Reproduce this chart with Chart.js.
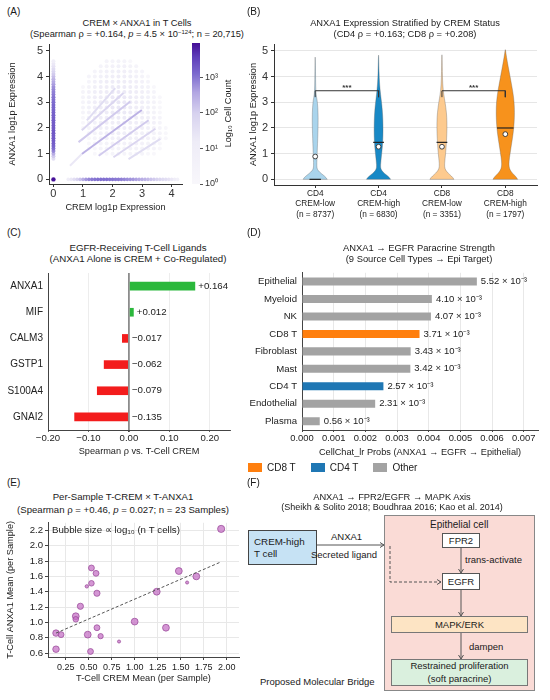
<!DOCTYPE html>
<html>
<head>
<meta charset="utf-8">
<script src="https://cdn.jsdelivr.net/npm/chart.js@4.4.1/dist/chart.umd.min.js"></script>
<style>
  body { margin: 0; background: #fff; font-family: "Liberation Sans", Arial, sans-serif; color: #1a1a1a; }
  #page { position: relative; width: 550px; height: 700px; overflow: hidden; }
  .pane { position: absolute; }
  .tag { position: absolute; font-size: 10px; line-height: 11px; }
  .ttl { position: absolute; width: 300px; text-align: center; font-size: 9.3px; line-height: 11px; white-space: nowrap; }
  sup { font-size: 6px; vertical-align: 3px; line-height: 0; }
  .fbox { position: absolute; box-sizing: border-box; border: 1px solid #555; display: flex; align-items: center; justify-content: center; text-align: center; font-size: 9.5px; line-height: 12px; }
  .ftxt { position: absolute; font-size: 9.5px; line-height: 11px; white-space: nowrap; }
  #legD { position: absolute; left: 248px; top: 462px; display: flex; align-items: center; font-size: 10px; }
  #legD span.sw { display: inline-block; width: 14px; height: 9px; margin-right: 5px; }
  #legD span.tx { margin-right: 15px; }
</style>
</head>
<body>
<div id="page">
  <div class="tag" style="left:7px;top:6px">(A)</div>
  <div class="ttl" style="left:-13px;top:18px">CREM × ANXA1 in T Cells<br>(Spearman ρ = +0.164, <i>p</i> = 4.5 × 10<sup>−124</sup>; n = 20,715)</div>
  <div class="pane" style="left:0;top:30px;width:200px;height:185px"><canvas id="cA"></canvas></div>
  <div class="pane" style="left:185px;top:30px;width:90px;height:185px"><canvas id="cBar"></canvas></div>

  <div class="tag" style="left:247px;top:6px">(B)</div>
  <div class="ttl" style="left:255px;top:17.5px">ANXA1 Expression Stratified by CREM Status<br>(CD4 ρ = +0.163; CD8 ρ = +0.208)</div>
  <div class="pane" style="left:245px;top:30px;width:305px;height:200px"><canvas id="cB"></canvas></div>

  <div class="tag" style="left:7px;top:227px">(C)</div>
  <div class="ttl" style="left:-12px;top:241.5px;font-size:9.7px">EGFR-Receiving T-Cell Ligands<br>(ANXA1 Alone is CREM + Co-Regulated)</div>
  <div class="pane" style="left:0;top:262px;width:250px;height:195px"><canvas id="cC"></canvas></div>

  <div class="tag" style="left:247px;top:227px">(D)</div>
  <div class="ttl" style="left:269px;top:241.5px;font-size:9.4px">ANXA1 → EGFR Paracrine Strength<br>(9 Source Cell Types → Epi Target)</div>
  <div class="pane" style="left:233px;top:262px;width:317px;height:196px"><canvas id="cD"></canvas></div>
  <div id="legD"></div>

  <div class="tag" style="left:7px;top:477px">(E)</div>
  <div class="ttl" style="left:-27px;top:489.5px;font-size:9.6px;line-height:13px">Per-Sample T-CREM × T-ANXA1<br>(Spearman ρ = +0.46, <i>p</i> = 0.027; n = 23 Samples)</div>
  <div class="pane" style="left:0;top:515px;width:245px;height:185px"><canvas id="cE"></canvas></div>

  <div class="tag" style="left:247px;top:477px">(F)</div>
  <div class="ttl" style="left:242px;top:491.5px;font-size:9.3px;line-height:10.5px">ANXA1 → FPR2/EGFR → MAPK Axis<br><span style="font-size:9px">(Sheikh &amp; Solito 2018; Boudhraa 2016; Kao et al. 2014)</span></div>
  <div class="fbox" style="left:248px;top:530px;width:69px;height:35px;background:#c6e2f4;border-color:#444;justify-content:flex-start;text-align:left;padding-left:5px;font-size:9.8px">CREM-high<br>T cell</div>
  <div class="ftxt" style="left:331px;top:531px">ANXA1</div>
  <div class="ftxt" style="left:311px;top:548.5px">Secreted ligand</div>
  <div class="fbox" style="left:384px;top:515px;width:151px;height:176px;background:#fadbd6;border-color:#888"></div>
  <div class="ftxt" style="left:430px;top:518.5px;font-size:10px">Epithelial cell</div>
  <div class="fbox" style="left:442px;top:533px;width:38px;height:15px;background:#fff">FPR2</div>
  <div class="ftxt" style="left:465px;top:553.5px">trans-activate</div>
  <div class="fbox" style="left:442px;top:573px;width:38px;height:17px;background:#fff">EGFR</div>
  <div class="fbox" style="left:391px;top:616px;width:137px;height:17px;background:#fde4c4;border-color:#777">MAPK/ERK</div>
  <div class="ftxt" style="left:469px;top:640.5px">dampen</div>
  <div class="fbox" style="left:391px;top:659px;width:137px;height:27px;background:#daf0de;border-color:#777;line-height:12.5px">Restrained proliferation<br>(soft paracrine)</div>
  <div class="ftxt" style="left:260px;top:675.5px">Proposed Molecular Bridge</div>
  <svg class="pane" style="left:0;top:0" width="550" height="700">
    <defs>
      <marker id="ah" markerWidth="6" markerHeight="6" refX="5" refY="3" orient="auto" markerUnits="userSpaceOnUse">
        <path d="M1,0.5 L5,3 L1,5.5" fill="none" stroke="#555" stroke-width="1"/>
      </marker>
    </defs>
    <line x1="317" y1="545" x2="384" y2="545" stroke="#555" stroke-width="1" marker-end="url(#ah)"/>
    <path d="M390,546 L390,582 L441,582" fill="none" stroke="#555" stroke-width="1" stroke-dasharray="3,2" marker-end="url(#ah)"/>
    <line x1="461" y1="548" x2="461" y2="573" stroke="#555" stroke-width="1" marker-end="url(#ah)"/>
    <line x1="461" y1="590" x2="461" y2="616" stroke="#555" stroke-width="1" marker-end="url(#ah)"/>
    <line x1="461" y1="633" x2="461" y2="659" stroke="#555" stroke-width="1" marker-end="url(#ah)"/>
  </svg>
</div>

<script>
// ---------- (A) hexbin of CREM x ANXA1 ----------
const aXTicks = [0, 1, 2, 3, 4];
const aYTicks = [0, 1, 2, 3, 4, 5];
const cbTicks = [1, 10, 100, 1000];
const cbTickLabels = ['10⁰', '10¹', '10²', '10³'];
const cbMax = 9000;
const originCount = 8500;
// CREM = 0 column, bins from y = 0.8 upward in 0.1 steps
const colY0 = 0.8, colStep = 0.1;
const colCounts = [40, 120, 300, 700, 1100, 1400, 1600, 1700, 1800, 1800, 1900, 1900, 1800, 1800, 1700,
  1700, 1600, 1500, 1500, 1400, 1300, 1300, 1200, 1100, 1000, 900, 800, 700, 600, 450,
  350, 250, 180, 120, 80, 50, 30, 20, 10];
// ANXA1 = 0 row, bins from x = 0.5 rightward in 0.1 steps
const rowX0 = 0.5, rowStep = 0.1;
const rowCounts = [10, 20, 40, 80, 150, 300, 500, 700, 900, 1000, 1100, 1100, 1100, 1100, 1000,
  1000, 900, 900, 800, 700, 600, 550, 500, 400, 350, 300, 250, 200, 150, 120,
  90, 70, 50, 40, 30, 20, 10, 5];
// diffuse cloud, rows from y = 4.6 down to 1.0, columns x = 0.8 .. 3.8 (0.2 steps)
const cloudX0 = 0.8, cloudYTop = 4.6, cloudStep = 0.2;
const cloudRows = [
  [0, 0, 0, 0, 0, 2, 2, 3, 2, 1, 0, 0, 0, 0, 0, 0],
  [0, 0, 0, 0, 2, 3, 4, 5, 4, 3, 2, 0, 0, 0, 0, 0],
  [0, 0, 0, 2, 3, 5, 6, 8, 7, 5, 3, 2, 0, 0, 0, 0],
  [0, 0, 2, 3, 5, 8, 10, 11, 10, 8, 5, 3, 1, 0, 0, 0],
  [0, 0, 2, 5, 8, 11, 14, 15, 13, 10, 7, 4, 2, 0, 0, 0],
  [0, 1, 3, 6, 10, 13, 16, 18, 16, 13, 9, 5, 3, 1, 0, 0],
  [0, 2, 4, 8, 12, 15, 19, 20, 18, 15, 11, 7, 4, 2, 0, 0],
  [0, 2, 5, 9, 13, 17, 20, 22, 20, 16, 12, 8, 5, 2, 1, 0],
  [0, 2, 5, 9, 14, 18, 21, 22, 20, 17, 13, 9, 5, 3, 1, 0],
  [0, 2, 5, 9, 13, 17, 20, 21, 20, 17, 13, 9, 6, 3, 1, 0],
  [0, 2, 4, 8, 12, 15, 18, 19, 18, 16, 12, 9, 6, 3, 1, 0],
  [0, 1, 4, 7, 10, 13, 15, 16, 16, 14, 11, 9, 6, 4, 2, 0],
  [0, 1, 3, 5, 8, 10, 12, 13, 13, 12, 10, 8, 6, 4, 2, 0],
  [0, 1, 2, 4, 6, 8, 9, 10, 10, 10, 9, 7, 5, 4, 2, 1],
  [0, 0, 2, 3, 5, 6, 7, 8, 8, 8, 7, 6, 5, 3, 2, 1],
  [0, 0, 1, 2, 3, 4, 5, 6, 6, 6, 6, 5, 4, 3, 2, 1],
  [0, 0, 1, 2, 2, 3, 4, 4, 4, 4, 4, 4, 3, 2, 1, 0],
  [0, 0, 1, 1, 2, 2, 2, 3, 3, 3, 3, 3, 2, 2, 1, 0],
  [0, 0, 0, 1, 1, 1, 2, 2, 2, 2, 2, 2, 1, 1, 0, 0]
];
// discrete-count diagonal streaks
const streakFrom = [[0.56, 0.53], [0.96, 0.99], [0.85, 1.45], [0.96, 1.91], [1.13, 2.30], [1.53, 0.92], [2.03, 0.86], [2.54, 0.79]];
const streakTo = [[0.96, 0.99], [2.99, 2.70], [2.60, 3.03], [2.37, 3.36], [2.09, 3.55], [3.22, 2.30], [3.45, 1.97], [3.62, 1.58]];
const streakCounts = [20, 260, 120, 70, 45, 120, 70, 45];

// ---------- (B) violins ----------
const bCell = ['CD4', 'CD4', 'CD8', 'CD8'];
const bStatus = ['CREM-low', 'CREM-high', 'CREM-low', 'CREM-high'];
const bN = [8737, 6830, 3351, 1797];
const bTicksY = [0, 1, 2, 3, 4, 5];
const bMedians = [0, 1.44, 1.44, 2.0];
const bMeans = [0.89, 1.27, 1.27, 1.76];
const bMedianHalf = [0.09, 0.085, 0.085, 0.13];
// [ANXA1 value, half width] outlines
const bViolins = [
  [[0, 0.19], [0.08, 0.17], [0.18, 0.12], [0.28, 0.07], [0.38, 0.035], [0.5, 0.024], [0.8, 0.028], [1.2, 0.034], [1.6, 0.04],
   [2.0, 0.045], [2.4, 0.047], [2.8, 0.042], [3.1, 0.03], [3.3, 0.014], [3.6, 0.008], [4.2, 0.005], [4.7, 0.002], [4.78, 0]],
  [[0, 0.19], [0.08, 0.17], [0.18, 0.12], [0.28, 0.07], [0.4, 0.035], [0.55, 0.03], [0.9, 0.045], [1.3, 0.062], [1.7, 0.07],
   [2.1, 0.07], [2.5, 0.065], [2.9, 0.052], [3.3, 0.032], [3.7, 0.016], [4.2, 0.007], [4.7, 0.003], [4.88, 0]],
  [[0, 0.19], [0.08, 0.17], [0.18, 0.125], [0.3, 0.075], [0.42, 0.045], [0.6, 0.04], [1.0, 0.058], [1.4, 0.07], [1.8, 0.078],
   [2.2, 0.08], [2.6, 0.072], [3.0, 0.05], [3.3, 0.028], [3.7, 0.012], [4.2, 0.006], [4.7, 0.003], [4.9, 0]],
  [[0, 0.195], [0.1, 0.17], [0.22, 0.12], [0.36, 0.075], [0.5, 0.058], [0.7, 0.058], [1.0, 0.075], [1.4, 0.1], [1.8, 0.125],
   [2.2, 0.14], [2.6, 0.145], [3.0, 0.14], [3.4, 0.12], [3.8, 0.09], [4.2, 0.06], [4.6, 0.03], [4.9, 0.01], [5.1, 0]]
];
const bColors = ['#a9d4ec', '#1889c6', '#fdca8e', '#f7921c'];
const bBrackets = [[0, 1], [2, 3]];
const bBracketTop = 3.45, bBracketFoot = 3.2;

// ---------- (C) ligand correlations ----------
const cLigands = ['ANXA1', 'MIF', 'CALM3', 'GSTP1', 'S100A4', 'GNAI2'];
const cRho = [0.164, 0.012, -0.017, -0.062, -0.079, -0.135];
const cTicks = [-0.2, -0.1, 0, 0.1, 0.2];

// ---------- (D) CellChat probabilities ----------
const dSources = ['Epithelial', 'Myeloid', 'NK', 'CD8 T', 'Fibroblast', 'Mast', 'CD4 T', 'Endothelial', 'Plasma'];
const dProb = [5.52e-3, 4.10e-3, 4.07e-3, 3.71e-3, 3.43e-3, 3.42e-3, 2.57e-3, 2.31e-3, 0.56e-3];
const dGroup = ['Other', 'Other', 'Other', 'CD8 T', 'Other', 'Other', 'CD4 T', 'Other', 'Other'];
const dTicks = [0, 0.001, 0.002, 0.003, 0.004, 0.005, 0.006, 0.007];
const dLegend = ['CD8 T', 'CD4 T', 'Other'];
const dGroupColor = { 'CD8 T': '#ff7f0e', 'CD4 T': '#1f77b4', 'Other': '#a3a3a3' };

// ---------- (E) per-sample means ----------
const eCrem = [1.94, 1.48, 1.67, 1.57, 1.24, 0.53, 0.58, 0.48, 0.53, 0.59, 0.41, 0.36, 0.36, 1.00, 1.34, 0.59, 0.145, 0.20, 0.49, 0.63, 0.83, 0.145, 0.52];
const eAnxa = [2.22, 1.67, 1.60, 1.52, 1.40, 1.71, 1.64, 1.47, 1.51, 1.38, 1.21, 1.08, 1.04, 1.01, 0.93, 0.93, 0.86, 0.84, 0.84, 0.82, 0.75, 0.65, 0.62];
const eLogN = [3.3, 3.2, 3.2, 2.0, 3.2, 2.9, 2.9, 2.1, 2.8, 3.0, 3.0, 3.2, 2.8, 3.2, 3.2, 2.9, 3.1, 2.9, 3.2, 2.7, 2.0, 3.1, 2.9];
const eTrendX = [0.145, 1.94];
const eTrendY = [0.86, 1.79];
const eXTicks = [0.25, 0.5, 0.75, 1.0, 1.25, 1.5, 1.75, 2.0];
const eYTicks = [0.6, 0.8, 1.0, 1.2, 1.4, 1.6, 1.8, 2.0, 2.2];

Chart.defaults.font.family = '"Liberation Sans", Arial, sans-serif';
Chart.defaults.color = '#222';
Chart.defaults.animation = false;
Chart.defaults.maintainAspectRatio = false;
Chart.defaults.plugins.legend.display = false;
Chart.defaults.plugins.tooltip.enabled = false;

const fixTicks = vals => s => { s.ticks = vals.map(v => ({ value: v })); };
const FONT = '"Liberation Sans", Arial, sans-serif';

// log-count colour ramp matching the colour bar
const purpleStops = [
  [0.00, [248, 247, 251]], [0.30, [238, 236, 247]], [0.50, [215, 210, 239]], [0.65, [178, 166, 226]],
  [0.78, [124, 106, 206]], [0.90, [95, 62, 186]], [1.00, [68, 14, 150]]
];
function purple(count) {
  const f = Math.max(0, Math.min(1, Math.log10(count) / Math.log10(cbMax)));
  for (let i = 1; i < purpleStops.length; i++) {
    const [f0, c0] = purpleStops[i - 1], [f1, c1] = purpleStops[i];
    if (f <= f1) {
      const t = (f - f0) / (f1 - f0);
      return 'rgb(' + c0.map((c, k) => Math.round(c + (c1[k] - c) * t)).join(',') + ')';
    }
  }
  return 'rgb(68,14,150)';
}

// ---------------- chart A ----------------
const cloudPts = [], cloudCols = [];
cloudRows.forEach((row, r) => row.forEach((n, c) => {
  if (!n) return;
  cloudPts.push({ x: cloudX0 + c * cloudStep, y: cloudYTop - r * cloudStep });
  cloudCols.push(purple(n));
}));
const colPts = colCounts.map((n, i) => ({ x: 0, y: colY0 + i * colStep }));
const rowPts = rowCounts.map((n, i) => ({ x: rowX0 + i * rowStep, y: 0 }));

new Chart(document.getElementById('cA'), {
  type: 'scatter',
  data: {
    datasets: [
      { data: cloudPts, backgroundColor: cloudCols, pointRadius: 2.0, borderWidth: 0, order: 5 },
      ...streakFrom.map((p, i) => ({
        type: 'line', data: [{ x: p[0], y: p[1] }, { x: streakTo[i][0], y: streakTo[i][1] }],
        borderColor: purple(streakCounts[i]), borderWidth: 2.0, pointRadius: 0, order: 4
      })),
      { data: rowPts, backgroundColor: rowCounts.map(purple), pointRadius: 1.8, borderWidth: 0, order: 2 },
      { data: colPts, backgroundColor: colCounts.map(purple), pointRadius: 2.0, borderWidth: 0, order: 2 },
      { data: [{ x: 0, y: 0 }], backgroundColor: purple(originCount), pointRadius: 2.2, borderWidth: 0, order: 1 }
    ]
  },
  options: {
    layout: { padding: { left: 5, top: 14, right: 18, bottom: 2 } },
    scales: {
      x: {
        type: 'linear', min: -0.15, max: 4.35, afterBuildTicks: fixTicks(aXTicks), afterFit: s => { s.height = 29; },
        grid: { drawOnChartArea: false, tickLength: 3, color: '#333' }, border: { color: '#333' },
        ticks: { font: { size: 11 }, padding: 0, color: '#333' },
        title: { display: true, text: 'CREM log1p Expression', font: { size: 9.2 }, padding: 0, color: '#222' }
      },
      y: {
        type: 'linear', min: -0.18, max: 5.27, afterBuildTicks: fixTicks(aYTicks), afterFit: s => { s.width = 44; },
        grid: { drawOnChartArea: false, tickLength: 3, color: '#333' }, border: { color: '#333' },
        ticks: { font: { size: 11 }, padding: 3, color: '#333' },
        title: { display: true, text: 'ANXA1 log1p Expression', font: { size: 9.2 }, padding: { top: 2, bottom: 0 }, color: '#222' }
      }
    }
  }
});

// colour bar
const cbTitle = {
  id: 'cbTitle',
  afterDraw(chart) {
    const { ctx, chartArea } = chart;
    ctx.save();
    ctx.translate(chartArea.right + 28, (chartArea.top + chartArea.bottom) / 2);
    ctx.rotate(-Math.PI / 2);
    ctx.font = '9.2px ' + FONT;
    ctx.fillStyle = '#222';
    ctx.textAlign = 'center';
    ctx.textBaseline = 'middle';
    ctx.fillText('Log₁₀ Cell Count', 0, 0);
    ctx.restore();
  }
};
new Chart(document.getElementById('cBar'), {
  type: 'bar',
  data: {
    labels: [''],
    datasets: [{
      data: [[1, cbMax]], barPercentage: 1, categoryPercentage: 1, borderWidth: 0,
      backgroundColor: c => {
        const ca = c.chart.chartArea;
        if (!ca) return 'transparent';
        const g = c.chart.ctx.createLinearGradient(0, ca.bottom, 0, ca.top);
        purpleStops.forEach(([f, col]) => g.addColorStop(f, 'rgb(' + col.join(',') + ')'));
        return g;
      }
    }]
  },
  options: {
    layout: { padding: { left: 7, top: 13, right: 41, bottom: 31 } },
    scales: {
      x: { display: false },
      y: {
        type: 'logarithmic', position: 'right', min: 1, max: cbMax,
        afterBuildTicks: fixTicks(cbTicks), afterFit: s => { s.width = 34; },
        grid: { drawOnChartArea: false, tickLength: 3, color: '#555' }, border: { display: false },
        ticks: { callback: (v, i) => cbTickLabels[i], font: { size: 9 }, padding: 2, color: '#333' }
      }
    }
  },
  plugins: [cbTitle]
});

// ---------------- chart B ----------------
const bLabels = bCell.map((c, i) => [c, bStatus[i], '(n = ' + bN[i] + ')']);
const violinPlugin = {
  id: 'violins',
  beforeDatasetsDraw(chart) {
    const { ctx, scales: { x, y } } = chart;
    bViolins.forEach((shape, g) => {
      const pts = shape.map(([v, w]) => [x.getPixelForValue(g + w), y.getPixelForValue(v)]);
      const left = shape.slice(0, -1).reverse().map(([v, w]) => [x.getPixelForValue(g - w), y.getPixelForValue(v)]);
      const all = pts.concat(left);
      ctx.save();
      ctx.beginPath();
      ctx.moveTo(all[0][0], all[0][1]);
      for (let k = 1; k < all.length - 1; k++) {
        const mx = (all[k][0] + all[k + 1][0]) / 2, my = (all[k][1] + all[k + 1][1]) / 2;
        ctx.quadraticCurveTo(all[k][0], all[k][1], mx, my);
      }
      ctx.lineTo(all[all.length - 1][0], all[all.length - 1][1]);
      ctx.closePath();
      ctx.fillStyle = bColors[g];
      ctx.fill();
      ctx.strokeStyle = 'rgba(90,90,90,0.55)';
      ctx.lineWidth = 0.6;
      ctx.stroke();
      ctx.restore();
    });
  },
  afterDatasetsDraw(chart) {
    const { ctx, scales: { x, y } } = chart;
    ctx.save();
    ctx.font = 'bold 8px ' + FONT;
    ctx.fillStyle = '#333';
    ctx.textAlign = 'center';
    ctx.textBaseline = 'bottom';
    bBrackets.forEach(([a, b]) => ctx.fillText('***', x.getPixelForValue((a + b) / 2), y.getPixelForValue(bBracketTop) + 1));
    ctx.restore();
  }
};
new Chart(document.getElementById('cB'), {
  type: 'scatter',
  data: {
    datasets: [
      ...bBrackets.map(([a, b]) => ({
        type: 'line', data: [{ x: a, y: bBracketFoot }, { x: a, y: bBracketTop }, { x: b, y: bBracketTop }, { x: b, y: bBracketFoot }],
        borderColor: '#333', borderWidth: 1, pointRadius: 0, tension: 0
      })),
      {
        data: bMedians.map((m, i) => ({ x: i, y: m })), pointStyle: 'line', borderColor: '#222', borderWidth: 1.2,
        pointRadius: c => c.dataIndex === undefined ? 3 : Math.abs(c.chart.scales.x.getPixelForValue(bMedianHalf[c.dataIndex]) - c.chart.scales.x.getPixelForValue(0))
      },
      { data: bMeans.map((m, i) => ({ x: i, y: m })), pointRadius: 2.4, backgroundColor: '#fff', borderColor: '#333', borderWidth: 0.9 }
    ]
  },
  options: {
    layout: { padding: { left: 2.5, top: 14, right: 13, bottom: 5 } },
    scales: {
      x: {
        type: 'linear', min: -0.65, max: 3.5, afterBuildTicks: fixTicks([0, 1, 2, 3]), afterFit: s => { s.height = 40; },
        grid: { drawOnChartArea: false, tickLength: 3, color: '#333' }, border: { color: '#333' },
        ticks: { callback: (v, i) => bLabels[i], font: { size: 8.3, lineHeight: 1.3 }, padding: 0, maxRotation: 0, autoSkip: false, color: '#222' }
      },
      y: {
        type: 'linear', min: -0.22, max: 5.27, afterBuildTicks: fixTicks(bTicksY), afterFit: s => { s.width = 26.5; },
        grid: { color: '#e6e6e6', tickColor: '#333', tickLength: 3 }, border: { color: '#333' },
        ticks: { font: { size: 11 }, padding: 3, color: '#333' },
        title: { display: true, text: 'ANXA1 log1p Expression', font: { size: 9.2 }, padding: 0, color: '#222' }
      }
    }
  },
  plugins: [violinPlugin]
});

// ---------------- chart C ----------------
const fmtSigned = v => (v >= 0 ? '+' : '−') + Math.abs(v).toFixed(3);
const cValueLabels = {
  id: 'cValues',
  afterDatasetsDraw(chart) {
    const { ctx, scales: { x } } = chart;
    const meta = chart.getDatasetMeta(0);
    ctx.save();
    ctx.font = '9.7px ' + FONT;
    ctx.fillStyle = '#222';
    ctx.textBaseline = 'middle';
    meta.data.forEach((el, i) => {
      const v = cRho[i];
      const px = v >= 0 ? el.x + 3 : x.getPixelForValue(0) + 3;
      ctx.fillText(fmtSigned(v), px, el.y);
    });
    ctx.restore();
  }
};
new Chart(document.getElementById('cC'), {
  type: 'bar',
  data: {
    labels: cLigands,
    datasets: [{ data: cRho, backgroundColor: cRho.map(v => v >= 0 ? '#2bb83c' : '#f31c1c'), barPercentage: 0.33, categoryPercentage: 1 }]
  },
  options: {
    indexAxis: 'y',
    layout: { padding: { left: 0, top: 2, right: 20, bottom: 0 } },
    scales: {
      x: {
        type: 'linear', min: -0.2, max: 0.25, afterBuildTicks: fixTicks(cTicks), afterFit: s => { s.height = 27; },
        grid: {
          color: c => c.tick && c.tick.value === 0 ? '#8c8c8c' : '#e8e8e8',
          lineWidth: c => c.tick && c.tick.value === 0 ? 1.8 : 0.8,
          tickColor: '#444', tickLength: 2
        },
        border: { color: '#444' },
        ticks: { callback: v => (v < 0 ? '−' + Math.abs(v).toFixed(2) : v.toFixed(2)), font: { size: 9.6 }, padding: 1, color: '#222' },
        title: { display: true, text: 'Spearman ρ vs. T-Cell CREM', font: { size: 9.2 }, padding: 0, color: '#222' }
      },
      y: {
        afterFit: s => { s.width = 48; },
        grid: { drawOnChartArea: false, drawTicks: false }, border: { color: '#444' },
        ticks: { font: { size: 10 }, padding: 5, color: '#222' }
      }
    }
  },
  plugins: [cValueLabels]
});

// ---------------- chart D ----------------
const dValueLabels = {
  id: 'dValues',
  afterDatasetsDraw(chart) {
    const { ctx } = chart;
    const meta = chart.getDatasetMeta(0);
    ctx.save();
    ctx.font = '9.5px ' + FONT;
    ctx.fillStyle = '#222';
    ctx.textBaseline = 'middle';
    meta.data.forEach((el, i) => ctx.fillText((dProb[i] * 1000).toFixed(2) + ' × 10⁻³', el.x + 4, el.y));
    ctx.restore();
  }
};
new Chart(document.getElementById('cD'), {
  type: 'bar',
  data: {
    labels: dSources,
    datasets: [{ data: dProb, backgroundColor: dGroup.map(g => dGroupColor[g]), barPercentage: 0.46, categoryPercentage: 1 }]
  },
  options: {
    indexAxis: 'y',
    layout: { padding: { left: 0, top: 6, right: 12, bottom: 0 } },
    scales: {
      x: {
        type: 'linear', min: 0, max: 0.00745, afterBuildTicks: fixTicks(dTicks), afterFit: s => { s.height = 28; },
        grid: { color: '#e8e8e8', tickColor: '#444', tickLength: 2 }, border: { color: '#444' },
        ticks: { callback: v => v.toFixed(3), font: { size: 9.4 }, padding: 1, color: '#222' },
        title: { display: true, text: 'CellChat_lr Probs (ANXA1 → EGFR → Epithelial)', font: { size: 9.2 }, padding: 0, color: '#222' }
      },
      y: {
        afterFit: s => { s.width = 69; },
        grid: { drawOnChartArea: false, drawTicks: false }, border: { color: '#444' },
        ticks: { font: { size: 9.6 }, padding: 5, color: '#222' }
      }
    }
  },
  plugins: [dValueLabels]
});
document.getElementById('legD').innerHTML = dLegend
  .map(g => '<span class="sw" style="background:' + dGroupColor[g] + '"></span><span class="tx">' + g + '</span>').join('');

// ---------------- chart E ----------------
const eNote = {
  id: 'eNote',
  afterDatasetsDraw(chart) {
    const { ctx, chartArea } = chart;
    ctx.save();
    ctx.font = '9.7px ' + FONT;
    ctx.fillStyle = '#222';
    ctx.textBaseline = 'middle';
    ctx.fillText('Bubble size ∝ log₁₀ (n T cells)', chartArea.left + 4, chartArea.top + 8);
    ctx.restore();
  }
};
new Chart(document.getElementById('cE'), {
  type: 'bubble',
  data: {
    datasets: [
      {
        type: 'line', data: eTrendX.map((x, i) => ({ x, y: eTrendY[i] })), borderColor: '#555', borderWidth: 1,
        borderDash: [3, 2], pointRadius: 0, order: 0
      },
      {
        data: eCrem.map((x, i) => ({ x, y: eAnxa[i], r: (eLogN[i] - 1.0) * 1.55 })),
        backgroundColor: 'rgba(196,110,196,0.72)', borderColor: 'rgba(150,70,150,0.9)', borderWidth: 0.8, order: 1
      }
    ]
  },
  options: {
    layout: { padding: { left: 5, top: 6, right: 6, bottom: 15.6 } },
    scales: {
      x: {
        type: 'linear', min: 0.058, max: 2.134, afterBuildTicks: fixTicks(eXTicks), afterFit: s => { s.height = 27.4; },
        grid: { color: '#e8e8e8', tickColor: '#444', tickLength: 3 }, border: { color: '#444' },
        ticks: { callback: v => v.toFixed(2), font: { size: 9 }, padding: 2, color: '#222' },
        title: { display: true, text: 'T-Cell CREM Mean (per Sample)', font: { size: 9.2 }, padding: 0, color: '#222' }
      },
      y: {
        type: 'linear', min: 0.548, max: 2.30, afterBuildTicks: fixTicks(eYTicks), afterFit: s => { s.width = 43; },
        grid: { color: '#e8e8e8', tickColor: '#444', tickLength: 3 }, border: { color: '#444' },
        ticks: { callback: v => v.toFixed(1), font: { size: 9.6 }, padding: 2, color: '#222' },
        title: { display: true, text: 'T-Cell ANXA1 Mean (per Sample)', font: { size: 9.2 }, padding: 0, color: '#222' }
      }
    }
  },
  plugins: [eNote]
});
</script>
</body>
</html>
